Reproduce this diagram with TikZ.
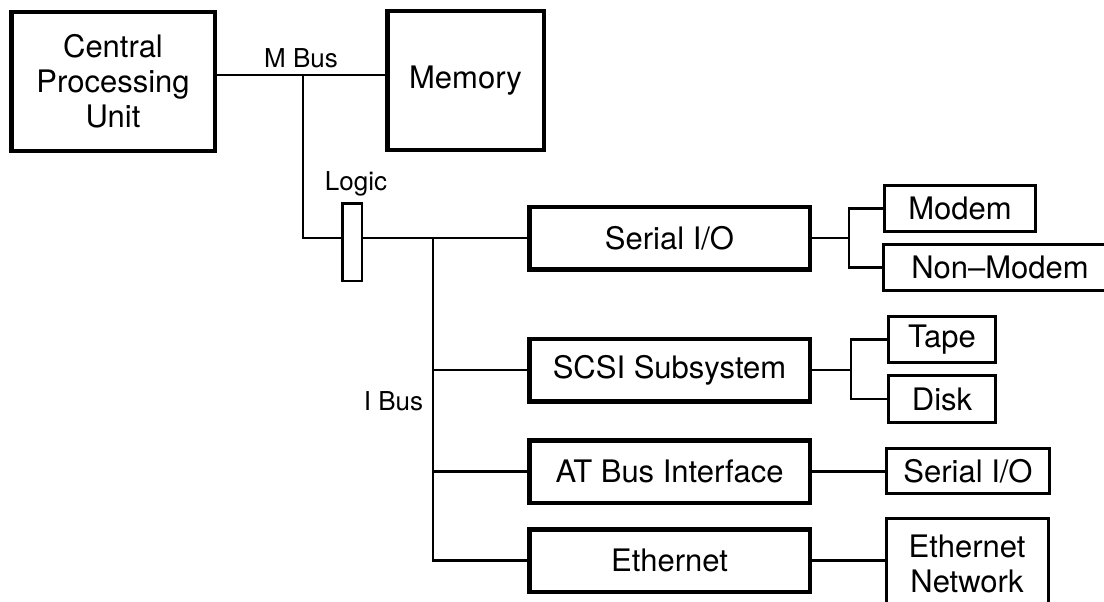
\documentclass[tikz,border=0pt]{standalone}
\usepackage{fontspec}
\setmainfont{TeX Gyre Heros}
\begin{document}
\begin{tikzpicture}[x=1pt,y=-1pt,
  bigbox/.style={draw, line width=4.5pt, inner sep=0pt, outer sep=0pt,
    align=center, font=\fontsize{31}{35}\selectfont},
  smallbox/.style={draw, line width=3pt, inner sep=0pt, outer sep=0pt,
    align=center, font=\fontsize{31}{35}\selectfont},
  logicbox/.style={draw, line width=2.5pt, inner sep=0pt, outer sep=0pt},
  wire/.style={line width=2.5pt},
  buslabel/.style={font=\fontsize{26}{30}\selectfont, inner sep=0pt, anchor=base}]
\useasboundingbox (0,0) rectangle (1104,602);
\clip (0,0) rectangle (1104,602);

% processor and memory on the M bus
\node[bigbox, minimum width=203.5pt, minimum height=138.5pt] (cpu) at (113,81.5)
  {Central\\Processing\\Unit};
\node[bigbox, minimum width=156.5pt, minimum height=138.5pt] (mem) at (465.5,80.5)
  {Memory};

% bus bridge
\node[logicbox, minimum width=19.5pt, minimum height=77.5pt] (logic) at (352,242) {};

% I bus controllers
\node[bigbox, minimum width=280.5pt, minimum height=62.5pt] (serial) at (669.5,238) {Serial I/O};
\node[bigbox, minimum width=280.5pt, minimum height=62.5pt] (scsi) at (669.5,370) {SCSI Subsystem};
\node[bigbox, minimum width=280.5pt, minimum height=62.5pt] (atbus) at (669.5,471.5) {AT Bus Interface};
\node[bigbox, minimum width=280.5pt, minimum height=62.5pt] (eth) at (669.5,560.5) {Ethernet};

% attached devices
\node[smallbox, minimum width=151pt, minimum height=46pt] (modem) at (960,208.5) {Modem};
\node[smallbox, minimum width=234pt, minimum height=46pt] (nonmodem) at (1000,267.5) {Non--Modem};
\node[smallbox, minimum width=107pt, minimum height=46pt] (tape) at (942,339.5) {Tape};
\node[smallbox, minimum width=107pt, minimum height=47pt] (disk) at (942,399) {Disk};
\node[smallbox, minimum width=163pt, minimum height=45pt] (atserial) at (968,471) {Serial I/O};
\node[smallbox, minimum width=162pt, minimum height=92pt] (ethnet) at (967,564) {Ethernet\\Network};

% M bus
\coordinate (mb) at (303,75);
\draw[wire] (cpu.east |- mb) -- (mem.west |- mb);
\draw[wire] (mb) |- (logic.west |- serial.west);
\node[buslabel] (mblabel) at (301,67) {M Bus};

% logic to I bus
\node[buslabel] (logiclabel) at (356,190) {Logic};
\draw[wire] (logic.east |- serial.west) -- (serial.west);

% I bus
\coordinate (ib) at (433,238);
\draw[wire] (ib) |- (eth.west);
\draw[wire] (ib |- scsi.west) -- (scsi.west);
\draw[wire] (ib |- atbus.west) -- (atbus.west);
\node[buslabel] (iblabel) at (393.5,410) {I Bus};

% serial branches
\coordinate (sbr) at (849,238);
\draw[wire] (serial.east) -- (sbr);
\draw[wire] (modem.west) -| (sbr) |- (nonmodem.west);

% SCSI branches
\coordinate (dbr) at (851,370);
\draw[wire] (scsi.east) -- (dbr);
\draw[wire] (tape.west) -| (dbr) |- (disk.west);

% AT bus and ethernet links
\draw[wire] (atbus.east) -- (atbus.east -| atserial.west);
\draw[wire] (eth.east) -- (eth.east -| ethnet.west);
\end{tikzpicture}
\end{document}
